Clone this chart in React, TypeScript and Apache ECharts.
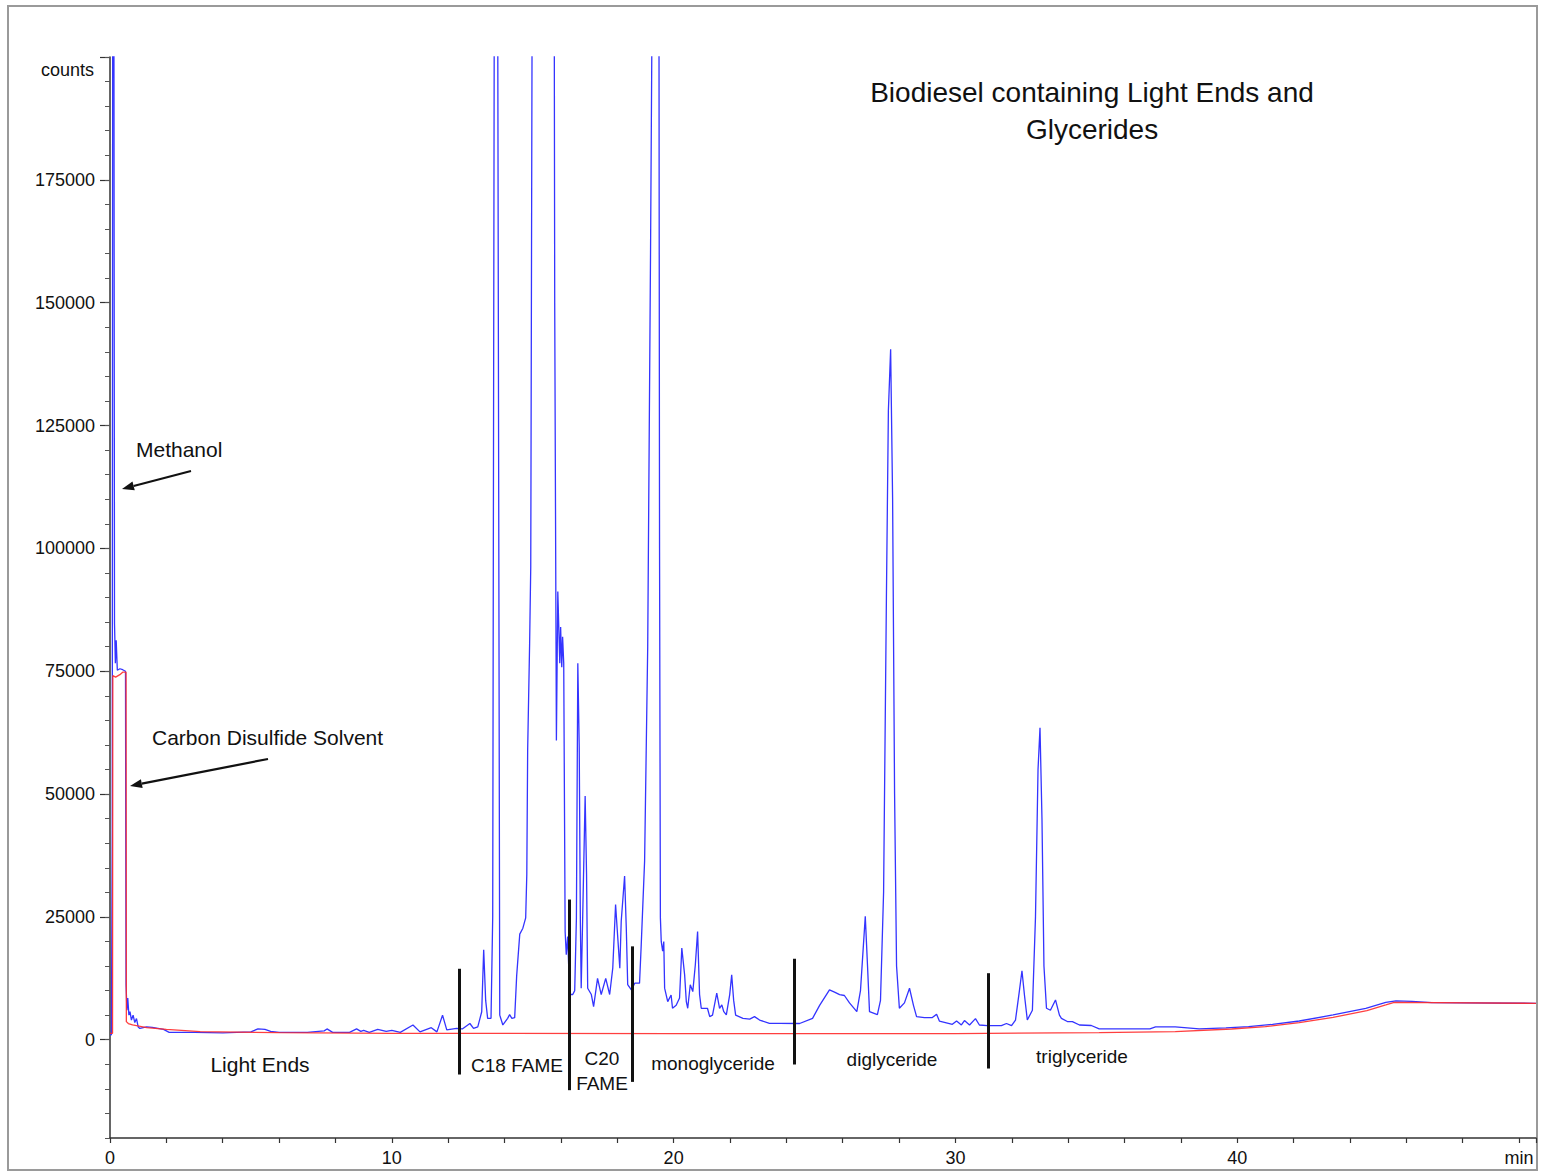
import React, { useEffect, useRef } from "react";
import * as echarts from "echarts";

// ---- data ----
const sampleTrace: [number, number][] = [
  [0, 1000], [0.05, 1000], [0.08, 42800], [0.1, 260000], [0.13, 260000], [0.16, 84700],
  [0.19, 76600], [0.22, 81300], [0.26, 75200], [0.35, 75500], [0.45, 75300], [0.55, 75000],
  [0.57, 11200], [0.6, 6000], [0.63, 8500], [0.67, 5000], [0.71, 5700], [0.76, 4000],
  [0.82, 5000], [0.88, 3500], [0.94, 4300], [1.0, 2600], [1.06, 2300], [1.3, 2600],
  [1.5, 2500], [1.9, 2100], [2.1, 1500], [3.0, 1500], [4.0, 1400], [5.0, 1600],
  [5.25, 2200], [5.5, 2100], [5.7, 1700], [6.0, 1500], [7.0, 1500], [7.6, 1800],
  [7.7, 2200], [7.9, 1500], [8.5, 1500], [8.75, 2200], [8.9, 1700], [9.0, 1900],
  [9.2, 1500], [9.5, 2100], [9.8, 1700], [10.0, 1900], [10.3, 1500], [10.75, 3000],
  [11.0, 1600], [11.4, 2450], [11.6, 1600], [11.8, 5000], [11.95, 2000], [12.3, 2300],
  [12.5, 2200], [12.77, 3300], [12.9, 2300], [13.05, 2600], [13.19, 5700], [13.26, 18300],
  [13.33, 8000], [13.4, 4350], [13.52, 4350], [13.58, 25000], [13.65, 260000], [13.74, 260000],
  [13.83, 5000], [13.94, 3000], [14.11, 4350], [14.18, 5100], [14.26, 4350], [14.36, 4500],
  [14.43, 13000], [14.54, 21500], [14.65, 22700], [14.75, 24800], [14.79, 33700], [14.82, 58800],
  [14.89, 80700], [14.93, 96300], [15.0, 260000], [15.75, 260000], [15.78, 150000], [15.84, 60900],
  [15.89, 91200], [15.96, 76600], [15.99, 84000], [16.03, 75800], [16.06, 82000], [16.1, 76600],
  [16.15, 22000], [16.19, 17300], [16.24, 21000], [16.31, 9200], [16.42, 9200], [16.49, 10000],
  [16.55, 24800], [16.6, 76600], [16.65, 59500], [16.69, 24000], [16.72, 10480], [16.77, 24100],
  [16.86, 49600], [16.91, 33700], [16.95, 10480], [17.08, 9200], [17.16, 6740], [17.3, 12500],
  [17.43, 9200], [17.59, 12500], [17.73, 9200], [17.84, 14560], [17.94, 27500], [18.01, 21400],
  [18.09, 14560], [18.14, 24100], [18.26, 33300], [18.32, 22700], [18.37, 11200], [18.5, 10150],
  [18.62, 11500], [18.79, 11500], [18.85, 19300], [18.97, 36400], [19.08, 80000], [19.18, 160000],
  [19.29, 260000], [19.47, 260000], [19.5, 100000], [19.53, 24800], [19.56, 20000], [19.61, 18000],
  [19.65, 20000], [19.68, 10500], [19.79, 7760], [19.91, 9100], [19.96, 6400], [20.09, 7000],
  [20.21, 8500], [20.29, 18650], [20.39, 13200], [20.45, 7760], [20.5, 6400], [20.59, 11200],
  [20.68, 9800], [20.77, 15250], [20.85, 22000], [20.92, 9200], [20.98, 6400], [21.2, 6400],
  [21.28, 4700], [21.38, 5000], [21.53, 9460], [21.63, 6400], [21.71, 7090], [21.78, 5700],
  [21.87, 5040], [21.99, 9190], [22.06, 13200], [22.13, 8000], [22.2, 5000], [22.46, 4350],
  [22.7, 4200], [22.87, 4700], [23.05, 4000], [23.4, 3330], [23.76, 3330], [24.47, 3300],
  [24.93, 4350], [25.18, 7000], [25.53, 10150], [25.71, 9700], [25.89, 9190], [26.06, 9000],
  [26.24, 7500], [26.5, 5720], [26.63, 10000], [26.8, 25100], [26.88, 15000], [26.95, 5720],
  [27.23, 5100], [27.34, 8000], [27.45, 30000], [27.55, 90000], [27.62, 128000], [27.7, 140500],
  [27.77, 110000], [27.84, 50000], [27.91, 15000], [28.01, 6400], [28.19, 7500], [28.37, 10480],
  [28.51, 7000], [28.62, 4700], [28.9, 4500], [29.18, 4500], [29.33, 5200], [29.43, 3810],
  [29.89, 3130], [30.04, 3800], [30.21, 3000], [30.32, 3900], [30.5, 3000], [30.71, 4290],
  [30.85, 3000], [31.13, 2860], [31.63, 2860], [31.81, 3300], [31.99, 2860], [32.13, 4000],
  [32.27, 10000], [32.36, 14030], [32.45, 9000], [32.55, 4020], [32.73, 6000], [32.84, 25000],
  [32.93, 55000], [33.0, 63500], [33.07, 45000], [33.14, 15000], [33.23, 6400], [33.37, 6000],
  [33.55, 8100], [33.69, 5000], [33.76, 4350], [33.97, 3700], [34.15, 3680], [34.4, 3000],
  [34.82, 2900], [35.1, 2200], [36.9, 2200], [37.1, 2600], [37.8, 2600], [38.65, 2200],
  [39.6, 2400], [40.4, 2650], [41.25, 3130], [42.2, 3810], [43.4, 5040], [44.56, 6400],
  [45.27, 7620], [45.63, 7900], [46.2, 7800], [46.9, 7560], [48, 7500], [50.6, 7410],
];

const blankTrace: [number, number][] = [
  [0, 1300], [0.09, 1300], [0.1, 74100], [0.2, 73800], [0.35, 74300], [0.45, 74800],
  [0.57, 74800], [0.58, 3680], [0.65, 3300], [0.8, 3000], [1.3, 2450], [2.0, 2100],
  [3.2, 1630], [6, 1450], [10, 1300], [20, 1250], [30, 1250], [35.1, 1450],
  [37.8, 1630], [39.8, 2180], [41.0, 2650], [42.2, 3470], [43.4, 4560], [44.6, 5920],
  [45.27, 7090], [45.57, 7620], [50.6, 7410],
];

const yLabelValues = [0, 25000, 50000, 75000, 100000, 125000, 150000, 175000];
const yMajorTickValues = [...yLabelValues, 200000];
const xLabelValues = [0, 10, 20, 30, 40];
const xUnitTick = 50;
const xUnitLabel = "min";
const yUnitLabel = "counts";
const titleLines = ["Biodiesel containing Light Ends and", "Glycerides"];

const separatorTime = [12.38, 16.31, 18.52, 24.29, 31.15];
const separatorTop = [14440, 28530, 19000, 16480, 13540];
const separatorBottom = [-7080, -10270, -8580, -5040, -5860];

const regionNames = ["Light Ends", "C18 FAME", "C20\nFAME", "monoglyceride", "diglyceride", "triglyceride"];
const peakNotes = ["Methanol", "Carbon Disulfide Solvent"];

const FONT = '"Liberation Sans", Arial, Helvetica, sans-serif';
const INK = "#111111";

function arrow(x1: number, y1: number, x2: number, y2: number) {
  const dx = x2 - x1;
  const dy = y2 - y1;
  const len = Math.sqrt(dx * dx + dy * dy);
  const ux = dx / len;
  const uy = dy / len;
  const hl = 12;
  const hw = 4.5;
  const bx = x2 - ux * hl;
  const by = y2 - uy * hl;
  const nx = -uy;
  const ny = ux;
  return [
    {
      type: "line",
      shape: { x1, y1, x2: bx, y2: by },
      style: { stroke: INK, lineWidth: 2.2 },
    },
    {
      type: "polygon",
      shape: {
        points: [
          [x2, y2],
          [bx + nx * hw, by + ny * hw],
          [bx - nx * hw, by - ny * hw],
        ],
      },
      style: { fill: INK },
    },
  ];
}

function label(text: string, x: number, y: number, size: number, align = "center", lh = 25) {
  return {
    type: "text",
    x,
    y,
    style: {
      text,
      font: `${size}px ${FONT}`,
      fill: INK,
      align,
      verticalAlign: "middle",
      lineHeight: lh,
    },
  };
}

export default function App() {
  const ref = useRef<HTMLDivElement>(null);

  useEffect(() => {
    if (!ref.current) return;
    const chart = echarts.init(ref.current, undefined, { renderer: "svg" });

    const option: any = {
      animation: false,
      backgroundColor: "#ffffff",
      textStyle: { fontFamily: FONT },
      grid: { left: 110, right: 7, top: 57, bottom: 34, containLabel: false },
      xAxis: {
        type: "value",
        min: 0,
        max: 50.6,
        interval: 2,
        axisLine: { show: true, onZero: false, lineStyle: { color: "#333", width: 1.5 } },
        axisTick: { show: true, length: 5, lineStyle: { color: "#333", width: 1.2 } },
        axisLabel: {
          margin: 11,
          fontSize: 18,
          color: INK,
          fontFamily: FONT,
          showMaxLabel: true,
          formatter: (v: number) =>
            v === xUnitTick ? xUnitLabel : xLabelValues.includes(v) ? String(v) : "",
        },
        splitLine: { show: false },
      },
      yAxis: [
        {
          type: "value",
          min: -20000,
          max: 200000,
          interval: 5000,
          axisLine: { show: true, onZero: false, lineStyle: { color: "#333", width: 1.5 } },
          axisTick: {
            show: true,
            length: 10,
            customValues: yMajorTickValues,
            lineStyle: { color: "#333", width: 1.2 },
          },
          axisLabel: {
            customValues: yLabelValues,
            margin: 15,
            fontSize: 18,
            color: INK,
            fontFamily: FONT,
            formatter: (v: number) => String(v),
          },
          splitLine: { show: false },
        },
        {
          type: "value",
          position: "left",
          offset: 0,
          min: -20000,
          max: 200000,
          interval: 5000,
          axisLine: { show: false, onZero: false },
          axisTick: { show: true, length: 5, lineStyle: { color: "#555", width: 1 } },
          axisLabel: { show: false },
          splitLine: { show: false },
        },
      ],
      series: [
        {
          type: "line",
          name: "sample",
          data: sampleTrace,
          yAxisIndex: 0,
          showSymbol: false,
          symbol: "none",
          clip: true,
          lineStyle: { color: "#3434ff", width: 1.3 },
          z: 2,
          markLine: {
            silent: true,
            symbol: ["none", "none"],
            label: { show: false },
            lineStyle: { color: INK, width: 3, type: "solid" },
            data: separatorTime.map((t, i) => [
              { coord: [t, separatorTop[i]] },
              { coord: [t, separatorBottom[i]] },
            ]),
          },
        },
        {
          type: "line",
          name: "blank",
          data: blankTrace,
          yAxisIndex: 0,
          showSymbol: false,
          symbol: "none",
          clip: true,
          lineStyle: { color: "#ff2a2a", width: 1.3, opacity: 0.9 },
          z: 3,
        },
      ],
      graphic: [
        {
          type: "rect",
          shape: { x: 8, y: 6, width: 1529, height: 1164 },
          style: { fill: "none", stroke: "#9a9a9a", lineWidth: 2 },
          z: -1,
        },
        label(titleLines.join("\n"), 1092, 110.5, 28, "center", 37),
        label(yUnitLabel, 94, 70, 18, "right"),
        label(regionNames[0], 260, 1064, 21),
        label(regionNames[1], 517, 1065, 19),
        label(regionNames[2], 602, 1070.5, 19, "center", 25),
        label(regionNames[3], 713, 1063, 19),
        label(regionNames[4], 892, 1059, 19),
        label(regionNames[5], 1082, 1056, 19),
        label(peakNotes[0], 136, 449, 21, "left"),
        label(peakNotes[1], 152, 737, 21, "left"),
        ...arrow(191, 471, 122, 489),
        ...arrow(268, 759, 130, 786),
      ],
    };

    chart.setOption(option);
    return () => chart.dispose();
  }, []);

  return (
    <div
      ref={ref}
      style={{ position: "absolute", left: 0, top: 0, width: 1543, height: 1172, background: "#fff" }}
    />
  );
}
